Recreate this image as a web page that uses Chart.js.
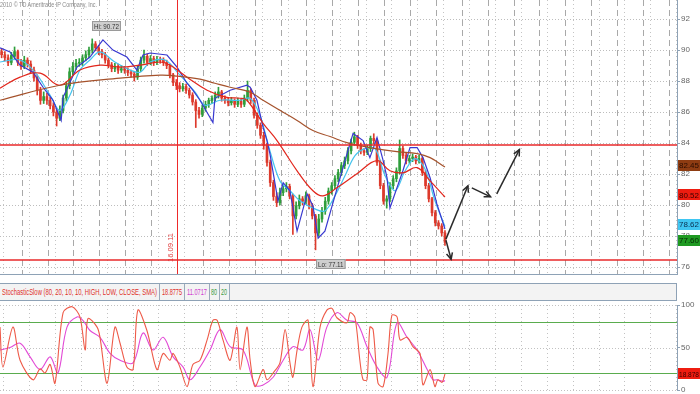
<!DOCTYPE html>
<html><head><meta charset="utf-8">
<script src="https://cdn.jsdelivr.net/npm/chart.js@4.4.1/dist/chart.umd.min.js"></script>
<style>
html,body{margin:0;padding:0;background:#fff;}
body{width:700px;height:394px;overflow:hidden;position:relative;font-family:"Liberation Sans",Arial,sans-serif;}
#main{position:absolute;left:0;top:0;}
#stoch{position:absolute;left:0;top:300px;}
#copy{position:absolute;left:0;top:0px;font-size:7.5px;color:#8a8a8a;white-space:nowrap;transform-origin:0 0;}
#hdr{position:absolute;left:0;top:283px;width:676px;height:16px;border-top:1px solid #8ea2b6;border-bottom:1px solid #8ea2b6;border-right:1px solid #8ea2b6;background:#f3f3f3;}
.ht{position:absolute;top:3px;font-size:8.5px;white-space:nowrap;transform-origin:0 0;line-height:10px;}
.sep{position:absolute;top:0;width:1px;height:16px;background:#9aaabb;}
</style>
</head><body>
<canvas id="main" width="700" height="276"></canvas>
<div id="copy">2010 © TD Ameritrade IP Company, Inc.</div>
<div id="hdr"></div>
<canvas id="stoch" width="700" height="94"></canvas>
<script>
// ---------- DATA ----------
const priceTicks = [76,78,80,82,84,86,88,90,92];
const stochTicks = [0,50,100];
const stochLevels = [80,20];
const levelLines = [83.85,76.45];
const markerIdx = [54.1];
const markerLabel = ['16.09.11'];
const copyText = '2010 © TD Ameritrade IP Company, Inc.';
const stochName = 'StochasticSlow (80, 20, 10, 10, HIGH, LOW, CLOSE, SMA)';

const openP = [89.9,89.7,89.5,89.2,89.6,89.9,89.2,88.95,89.35,89.1,
88.7,88.2,87.4,86.75,87.0,86.75,86.4,86.0,85.6,86.1,
86.9,87.7,88.6,88.95,89.15,89.2,89.5,89.7,90.0,90.4,
90.15,89.9,89.7,89.35,89.05,88.8,88.95,88.7,88.8,88.7,
88.55,88.45,88.25,88.8,89.35,89.6,89.2,89.45,89.2,89.4,
89.35,89.2,89.0,88.4,87.9,87.7,87.5,87.65,87.4,87.1,
86.65,86.1,85.85,86.25,86.5,86.75,86.9,87.1,87.3,86.9,
86.75,86.6,86.75,86.5,86.7,86.5,86.9,87.4,86.75,85.8,
85.15,84.5,83.85,82.75,81.45,80.55,80.15,80.8,81.05,81.2,
80.6,79.3,79.95,80.4,80.25,80.6,79.95,79.3,78.2,79.1,
79.6,80.25,80.9,81.25,81.7,82.1,82.55,82.85,83.5,84.05,
84.4,83.85,83.5,83.4,83.65,84.3,84.15,82.75,81.25,80.25,
80.4,81.25,81.7,82.2,83.65,83.2,82.85,83.0,83.1,82.85,
83.0,82.1,81.25,80.4,79.5,78.85,78.65,78.2];
const closeP = [89.7,89.5,89.2,89.65,89.9,89.2,88.95,89.35,89.1,88.7,
88.2,87.4,86.75,87.0,86.75,86.4,86.0,85.6,86.1,86.9,
87.7,88.6,88.95,89.15,89.2,89.5,89.7,90.0,90.4,90.15,
89.9,89.7,89.35,89.05,88.8,88.95,88.7,88.8,88.7,88.55,
88.45,88.25,88.8,89.35,89.6,89.2,89.45,89.2,89.4,89.35,
89.2,89.0,88.4,87.9,87.7,87.5,87.65,87.4,87.1,86.65,
86.1,85.85,86.25,86.5,86.75,86.9,87.1,87.3,86.9,86.75,
86.6,86.75,86.5,86.7,86.5,86.9,87.4,86.75,85.8,85.15,
84.5,83.85,82.75,81.45,80.55,80.15,80.8,81.05,81.2,80.6,
79.3,79.95,80.4,80.25,80.6,79.95,79.3,78.2,79.1,79.6,
80.25,80.9,81.25,81.7,82.1,82.55,82.85,83.5,84.05,84.4,
83.85,83.5,83.4,83.65,84.3,84.15,82.75,81.25,80.25,80.4,
81.25,81.7,82.2,83.65,83.2,82.85,83.0,83.1,82.85,83.0,
82.1,81.25,80.4,79.5,78.85,78.65,78.2,77.6];
const highP = [90.1,89.9,89.7,89.85,90.2,90.0,89.4,89.6,89.5,89.3,
88.9,88.4,87.6,87.3,87.2,86.95,86.6,86.2,86.4,87.1,
87.95,88.85,89.2,89.4,89.45,89.7,89.95,90.2,90.72,90.55,
90.3,90.05,89.85,89.5,89.2,89.15,89.1,89.0,88.95,88.85,
88.7,88.6,89.0,89.55,90.0,89.75,89.65,89.6,89.6,89.55,
89.5,89.35,89.1,88.5,88.1,87.9,87.85,87.8,87.55,87.25,
86.8,86.3,86.45,86.7,86.9,87.05,87.3,87.6,87.4,87.05,
86.9,86.95,86.85,86.9,86.85,87.1,88.0,87.5,86.9,85.95,
85.3,84.7,84.0,82.9,81.6,80.8,81.1,81.3,81.45,81.35,
80.7,80.2,80.65,80.55,80.85,80.7,80.1,79.4,79.4,79.85,
80.5,81.1,81.45,81.9,82.3,82.75,83.1,83.7,84.25,84.7,
84.5,84.0,83.65,83.85,84.45,84.6,84.25,82.9,81.4,80.6,
81.45,81.9,82.4,84.2,83.8,83.35,83.2,83.3,83.2,83.2,
83.1,82.25,81.4,80.5,79.65,79.0,78.8,78.35];
const lowP = [89.5,89.3,89.0,89.05,89.45,89.0,88.75,88.8,88.9,88.5,
88.0,87.1,86.5,86.55,86.5,86.2,85.75,85.1,85.45,85.95,
86.7,87.5,88.4,88.75,88.95,89.0,89.3,89.5,89.8,89.95,
89.7,89.5,89.15,88.85,88.6,88.6,88.5,88.55,88.5,88.35,
88.25,88.0,88.1,88.6,89.15,89.0,89.05,89.0,89.05,89.15,
89.0,88.8,88.2,87.7,87.45,87.3,87.35,87.2,86.9,86.45,
85.0,85.6,85.7,86.05,86.3,86.55,86.7,86.9,86.7,86.55,
86.4,86.45,86.3,86.35,86.3,86.35,86.7,86.55,85.6,84.95,
84.3,83.6,82.5,81.2,80.3,79.9,80.0,80.6,80.85,80.4,
78.1,79.1,79.75,80.0,80.05,79.75,79.1,77.11,78.0,78.9,
79.4,80.05,80.7,81.05,81.5,81.9,82.35,82.65,83.3,83.85,
83.65,83.3,83.2,83.25,83.45,83.95,82.55,81.05,80.05,79.8,
80.2,81.05,81.5,82.0,83.0,82.65,82.7,82.8,82.65,82.7,
81.9,81.05,80.2,79.3,78.65,78.45,78.0,77.4];

const brownIdx = [-0.5,18,36.6,49,54.2,61.3,65.9,70.6,76.8,80.8,86,91.3,96.2,101.5,106.7,113.8,122.2,128.4,132.4,137];
const brownVal = [86.76,87.73,88.19,88.38,88.32,88.12,87.86,87.6,87.28,86.76,86.11,85.46,84.81,84.42,84.03,83.71,83.45,83.32,83.06,82.45];
const redIdx = [-0.5,5.7,11.9,18,24.2,30.4,36.6,42.8,49,52,57.3,63.5,69.6,73.7,75.8,80.8,85.1,91.3,96.2,99.3,103.6,109.8,116,120,124,128.4,132.4,137];
const redVal = [87.54,88.25,88.51,87.73,88.71,89.03,88.9,89.03,89.23,89.03,88.25,87.41,86.95,86.89,86.76,85.27,84.16,82.21,80.92,80.59,81.11,82.02,82.86,82.21,82.08,82.41,81.56,80.52];
const cyanIdx = [-0.5,5.7,10.3,15,18,21.1,24.2,27.3,30.4,35,39.7,42.8,45.9,50.5,55.1,59.8,62.9,67.5,73.7,76.8,79.8,82.9,86,89.1,92.2,96.8,99.9,103,106.1,109.2,112.3,115.4,118.5,121.6,124.7,127.7,130.8,133.9,137];
const cyanVal = [89.23,89.36,88.57,87.08,86.11,87.08,88.71,89.36,89.88,89.23,88.71,88.57,89.23,89.36,88.38,87.28,86.44,86.76,86.76,86.89,85.79,83.51,81.56,80.92,80.27,79.75,79.62,80.59,81.89,83.19,83.64,83.64,81.89,80.92,82.21,82.99,82.34,80.27,78.62];
const blueIdx = [-0.5,2.6,5.7,9.7,12.8,15.9,18.4,19,23.3,27.3,31.3,34.4,38.7,41.8,43.7,45.9,51.1,54.2,57.3,59.1,61.3,65.3,65.9,70.6,75.8,76.8,78.9,80.8,82,82.9,85.4,87,89.1,91.3,94.4,96.2,97.8,99.9,103,106.1,108.6,111.7,113.8,116,117.9,119.1,120,124,126.2,128.4,130.2,132.4,134.5,137];
const blueVal = [90.14,89.88,89.03,88.57,87.6,86.76,85.46,86.95,88.9,89.55,90.66,90.0,89.55,88.71,89.68,89.81,89.68,88.9,87.86,87.41,86.76,85.33,86.89,87.41,87.73,87.6,86.76,85.01,84.16,83.32,80.27,81.44,80.92,78.32,80.72,79.94,77.86,78.32,80.59,82.86,84.62,84.16,83.06,84.36,82.86,81.76,79.81,82.21,83.71,83.71,83.06,81.76,80.07,78.45];

const kIdx = [-0.5,0.4,3.5,5.7,9.7,11.9,13.4,15,16.5,19,21.8,24.2,25.8,26.7,29.5,30.4,32.6,35,36.6,38.7,40.6,42.1,44.9,48,49.9,52,53,55.1,57.3,59.1,61.3,63.5,65.3,66.6,68.4,70.6,72.7,73.7,75.8,76.8,78.3,80.8,82,83.9,86,87.6,89.1,90,91.3,92.8,94.7,96.2,98.4,100.5,102.1,103.6,106.7,107.7,109.2,110.7,111.7,112.9,113.8,114.8,116.3,117.9,119.4,120.6,122.2,123.1,125.3,127.1,129.3,130.2,132.4,133.9,134.8,136.1,137];
const kVal = [74,27,74,35,12,25,20,30,8,91,98,86,47,84,74,62,8,74,55,27,24,94,70,24,43,35,43,27,4,30,35,59,82,82,59,35,74,24,74,35,4,24,12,20,32,71,32,15,47,74,82,4,74,94,96,85,79,91,85,35,12,12,74,71,8,4,43,88,86,59,62,51,43,6,24,4,12,9,18.8775];
const dIdx = [-0.5,2.6,5.7,8.8,11.9,15,17.4,20.2,23.3,25.1,27.3,30.4,33.5,36.6,40.6,43.7,46.8,49.9,53,56.1,58.2,61.3,64.4,67.5,70.6,74.6,78.3,80.8,83.9,87,90,93.1,95.3,97.8,100.5,103.6,106.7,109.8,112.9,116,119.1,122.2,125.3,128.4,131.5,133.3,134.5,136.4,137];
const dVal = [47,50,55,39,24,39,20,74,86,82,70,62,43,35,32,67,47,62,39,27,12,27,47,71,51,47,6,6,15,35,51,47,71,35,74,91,82,79,51,27,15,79,62,47,24,12,12,10,11.0717];

// projection arrows (index, price)
const arrowFromIdx = [137.3,137.3,145.3,153.0];
const arrowFromVal = [77.73,77.8,81.11,80.72];
const arrowToIdx   = [138.9,144.1,151.1,160.0];
const arrowToVal   = [76.5,81.24,80.53,83.58];

// ---------- STYLE ----------
const C = {green:'#2f9e3c', red:'#dd3a2c', blue:'#3838d0', cyan:'#45c4ee', ma50:'#e2261c', ma200:'#a5522c',
  kLine:'#ee5a48', dLine:'#e24ad6', lvl:'#5aac4e', axis:'#8ea2b6', txt:'#666'};
const X_MIN = -0.5, X_MAX = 208.7;
const dashGrid = [], dotGrid = [];
for (let v = 6.2; v < X_MAX; v += 8) dashGrid.push(v);
for (let v = 0.46; v < X_MAX; v += 8) dotGrid.push(v);

function toXY(xs, ys){ return xs.map((x,i)=>({x:x, y:ys[i]})); }
function vline(ctx,x,y1,y2){ctx.beginPath();ctx.moveTo(x,y1);ctx.lineTo(x,y2);ctx.stroke();}
function hline(ctx,y,x1,x2){ctx.beginPath();ctx.moveTo(x1,y);ctx.lineTo(x2,y);ctx.stroke();}
function arrow(ctx,x1,y1,x2,y2){
  ctx.beginPath();ctx.moveTo(x1,y1);ctx.lineTo(x2,y2);ctx.stroke();
  const a=Math.atan2(y2-y1,x2-x1), s=7;
  ctx.beginPath();
  ctx.moveTo(x2-s*Math.cos(a-0.45),y2-s*Math.sin(a-0.45));
  ctx.lineTo(x2,y2);
  ctx.lineTo(x2-s*Math.cos(a+0.45),y2-s*Math.sin(a+0.45));
  ctx.stroke();
}
function scaledText(ctx,txt,x,y,sx){ctx.save();ctx.translate(x,y);ctx.scale(sx,1);ctx.fillText(txt,0,0);ctx.restore();}
function tag(ctx,txt,y,bg,fg){
  ctx.fillStyle=bg; ctx.fillRect(678,Math.round(y-5.5),22,11);
  ctx.fillStyle=fg; ctx.font='8px "Liberation Sans",Arial'; ctx.textBaseline='middle'; ctx.textAlign='left';
  const w=ctx.measureText(txt).width; const sx=Math.min(1,20/w);
  scaledText(ctx,txt,679,y+0.5,sx);
}

const mainDecor = {
  id:'mainDecor',
  beforeDatasetsDraw(c){
    const {ctx, chartArea:a, scales:{x,y}} = c;
    ctx.save(); ctx.lineWidth=1;
    ctx.strokeStyle='#bdbdbd'; ctx.setLineDash([1,2]);
    priceTicks.forEach(v=>hline(ctx,Math.round(y.getPixelForValue(v))+0.5,a.left,a.right));
    ctx.strokeStyle='#c4c4c4'; ctx.setLineDash([1,3]);
    dotGrid.forEach(v=>vline(ctx,Math.round(x.getPixelForValue(v))+0.5,a.top,a.bottom));
    ctx.strokeStyle='#a9a9a9'; ctx.setLineDash([6,4]);
    dashGrid.forEach(v=>{ if(!markerIdx.some(m=>Math.abs(m-v)<0.5)) vline(ctx,Math.round(x.getPixelForValue(v))+0.5,a.top,a.bottom); });
    ctx.restore();
  },
  afterDatasetsDraw(c){
    const {ctx, chartArea:a, scales:{x,y}} = c;
    ctx.save();
    ctx.setLineDash([]);
    // date marker
    ctx.lineWidth=1; ctx.strokeStyle='#ee2a2a';
    markerIdx.forEach((m,i)=>{
      const px=Math.round(x.getPixelForValue(m))+0.5;
      vline(ctx,px,a.top,a.bottom);
      ctx.save(); ctx.translate(px-3,262); ctx.rotate(-Math.PI/2);
      ctx.fillStyle='#e04040'; ctx.font='8px "Liberation Sans",Arial'; ctx.textAlign='left'; ctx.textBaseline='bottom';
      ctx.scale(0.95,1); ctx.fillText(markerLabel[i],0,0); ctx.restore();
    });
    // red levels
    ctx.strokeStyle='#e8282a'; ctx.lineWidth=1.5;
    levelLines.forEach(v=>hline(ctx,Math.round(y.getPixelForValue(v)),a.left,a.right));
    // arrows
    ctx.strokeStyle='#2a2a2a'; ctx.lineWidth=1.5;
    arrowFromIdx.forEach((f,i)=>arrow(ctx,x.getPixelForValue(f),y.getPixelForValue(arrowFromVal[i]),x.getPixelForValue(arrowToIdx[i]),y.getPixelForValue(arrowToVal[i])));
    // Hi / Lo labels
    let hiI=0, loI=0;
    highP.forEach((v,i)=>{if(v>highP[hiI])hiI=i;});
    lowP.forEach((v,i)=>{if(v<lowP[loI])loI=i;});
    const box=(txt,px,top)=>{
      ctx.font='8px "Liberation Sans",Arial';
      const w=ctx.measureText(txt).width*0.78;
      ctx.fillStyle='#cfcfcf'; ctx.fillRect(px,top,w+4,10);
      ctx.strokeStyle='#9a9a9a'; ctx.lineWidth=1; ctx.strokeRect(px+0.5,top+0.5,w+3,9);
      ctx.fillStyle='#333'; ctx.textBaseline='middle'; ctx.textAlign='left';
      scaledText(ctx,txt,px+2,top+5.5,0.78);
    };
    box('Hi: '+highP[hiI].toFixed(2), Math.round(x.getPixelForValue(hiI)), Math.round(y.getPixelForValue(highP[hiI]))-18);
    box('Lo: '+lowP[loI].toFixed(2), Math.round(x.getPixelForValue(loI)), Math.round(y.getPixelForValue(lowP[loI]))+9);
    // bottom border
    ctx.strokeStyle=C.axis; ctx.lineWidth=1;
    hline(ctx,a.bottom+0.5,0,a.right);
    ctx.restore();
  },
  afterDraw(c){
    const {ctx, scales:{y}} = c;
    const tags=[
      {v:brownVal[brownVal.length-1], bg:'#8e3c12', fg:'#2a0d00'},
      {v:redVal[redVal.length-1], bg:'#ee1c10', fg:'#3a0000'},
      {v:cyanVal[cyanVal.length-1], bg:'#3fc6f2', fg:'#0a3050'},
      {v:closeP[closeP.length-1], bg:'#1f9a22', fg:'#062a06'}
    ].map(t=>({...t, py:y.getPixelForValue(t.v)-2})).sort((p,q)=>p.py-q.py);
    let prev=-100;
    ctx.save();
    tags.forEach(t=>{ if(t.py<prev+11) t.py=prev+11; prev=t.py; tag(ctx,t.v.toFixed(2),t.py,t.bg,t.fg); });
    ctx.restore();
  }
};

const candleColor = ctx => closeP[ctx.dataIndex] >= openP[ctx.dataIndex] ? C.green : C.red;
const lineDs = (label, xs, ys, color, tension) => ({type:'line', label, data:toXY(xs,ys), borderColor:color, borderWidth:1.2,
  pointRadius:0, tension:tension, fill:false, order:0});

new Chart(document.getElementById('main'), {
  type:'bar',
  data:{datasets:[
    lineDs('MA200', brownIdx, brownVal, C.ma200, 0.4),
    lineDs('MA50', redIdx, redVal, C.ma50, 0.4),
    lineDs('Channel', blueIdx, blueVal, C.blue, 0),
    lineDs('MA10', cyanIdx, cyanVal, C.cyan, 0.35),
    {label:'body', data:openP.map((o,i)=>({x:i, y:[o, closeP[i]]})), backgroundColor:candleColor, borderWidth:0,
      barThickness:2, minBarLength:1, grouped:false, order:2},
    {label:'wick', data:lowP.map((l,i)=>({x:i, y:[l, highP[i]]})), backgroundColor:candleColor, borderWidth:0,
      barThickness:1, grouped:false, order:3}
  ]},
  options:{
    responsive:false, animation:false, events:[],
    layout:{padding:{top:0,bottom:2,left:0,right:0}},
    plugins:{legend:{display:false}, tooltip:{enabled:false}},
    scales:{
      x:{type:'linear', display:false, min:X_MIN, max:X_MAX, offset:false},
      y:{position:'right', min:75.55, max:93.23,
        afterBuildTicks: ax=>{ax.ticks=priceTicks.map(v=>({value:v}));},
        afterFit: ax=>{ax.width=23; ax.paddingTop=0; ax.paddingBottom=0;},
        ticks:{font:{size:8,family:'"Liberation Sans",Arial'}, color:C.txt, padding:1},
        grid:{drawOnChartArea:false, tickLength:3, color:C.axis},
        border:{color:C.axis}}
    }
  },
  plugins:[mainDecor]
});

const stochDecor = {
  id:'stochDecor',
  beforeDatasetsDraw(c){
    const {ctx, chartArea:a, scales:{x,y}} = c;
    ctx.save(); ctx.lineWidth=1;
    ctx.strokeStyle='#c2c2c2'; ctx.setLineDash([1,2]);
    stochTicks.forEach(v=>hline(ctx,Math.round(y.getPixelForValue(v))+0.5,a.left,a.right));
    ctx.setLineDash([1,3]);
    dotGrid.forEach(v=>vline(ctx,Math.round(x.getPixelForValue(v))+0.5,a.top,a.bottom));
    ctx.setLineDash([]); ctx.strokeStyle=C.lvl; ctx.lineWidth=1.2;
    stochLevels.forEach(v=>hline(ctx,Math.round(y.getPixelForValue(v))+0.5,a.left,a.right));
    ctx.restore();
  },
  afterDraw(c){
    const {ctx, scales:{y}} = c;
    ctx.save();
    const v=kVal[kVal.length-1];
    tag(ctx, v.toFixed(3), y.getPixelForValue(v), '#ee1c10', '#3a0000');
    ctx.restore();
  }
};

new Chart(document.getElementById('stoch'), {
  type:'line',
  data:{datasets:[
    {label:'%D', data:toXY(dIdx,dVal), borderColor:C.dLine, borderWidth:1.1, pointRadius:0, tension:0.35, order:1},
    {label:'%K', data:toXY(kIdx,kVal), borderColor:C.kLine, borderWidth:1.1, pointRadius:0, tension:0.3, order:0}
  ]},
  options:{
    responsive:false, animation:false, events:[],
    layout:{padding:{top:5,bottom:4,left:0,right:0}},
    plugins:{legend:{display:false}, tooltip:{enabled:false}},
    scales:{
      x:{type:'linear', display:false, min:X_MIN, max:X_MAX},
      y:{position:'right', min:0, max:100,
        afterBuildTicks: ax=>{ax.ticks=stochTicks.map(v=>({value:v}));},
        afterFit: ax=>{ax.width=23; ax.paddingTop=0; ax.paddingBottom=0;},
        ticks:{font:{size:8,family:'"Liberation Sans",Arial'}, color:C.txt, padding:1},
        grid:{drawOnChartArea:false, tickLength:3, color:C.axis},
        border:{color:C.axis}}
    }
  },
  plugins:[stochDecor]
});

// ---------- HTML header & texts ----------
function fit(el,w){ const n=el.getBoundingClientRect().width; el.style.transform='scaleX('+(w/n)+')'; }
const copy=document.getElementById('copy'); copy.textContent=copyText; fit(copy,97);
const hdr=document.getElementById('hdr');
const items=[
  {t:stochName, l:2, w:155, c:'#e0302a'},
  {t:kVal[kVal.length-1].toFixed(4), l:162, w:20, c:'#e0302a'},
  {t:dVal[dVal.length-1].toFixed(4), l:187, w:20, c:'#d040d0'},
  {t:String(stochLevels[0]), l:211, w:6, c:'#3a9a3a'},
  {t:String(stochLevels[1]), l:221, w:6, c:'#3a9a3a'}
];
items.forEach(it=>{const s=document.createElement('span');s.className='ht';s.textContent=it.t;s.style.left=it.l+'px';s.style.color=it.c;hdr.appendChild(s);fit(s,it.w);});
[159,184,209,219,229].forEach(p=>{const d=document.createElement('div');d.className='sep';d.style.left=p+'px';hdr.appendChild(d);});
</script>
</body></html>
